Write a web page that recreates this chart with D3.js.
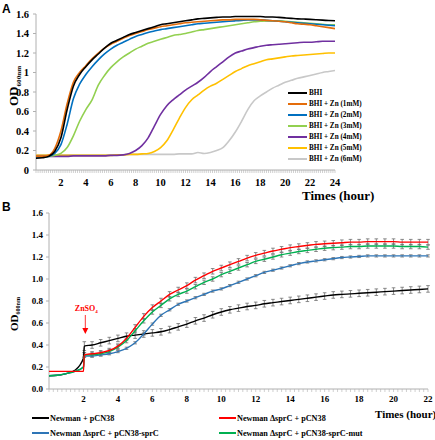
<!DOCTYPE html>
<html>
<head>
<meta charset="utf-8">
<script src="https://cdn.jsdelivr.net/npm/d3@7"></script>
<style>
  body { margin: 0; background: #fff; }
  svg { display: block; }
  .serif { font-family: "Liberation Serif", "Times New Roman", serif; font-weight: bold; }
  .panel-label { font-family: "Liberation Sans", Arial, sans-serif; font-weight: bold; font-size: 12px; }
</style>
</head>
<body>
<svg id="chart" width="435" height="440"></svg>
<script>
// ---------- panel A data (OD600 every 0.5 h, 0-24 h) ----------
const timesA = d3.range(0, 24.01, 0.5);
const seriesNamesA = ["BHI", "BHI + Zn (1mM)", "BHI + Zn (2mM)", "BHI + Zn (3mM)", "BHI + Zn (4mM)", "BHI + Zn (5mM)", "BHI + Zn (6mM)"];
const seriesColorsA = ["#000000", "#E46C0A", "#0070C0", "#92D050", "#7030A0", "#FFC000", "#C8C8C8"];
const bhi = [0.12,0.125,0.14,0.19,0.33,0.62,0.86,0.98,1.06,1.13,1.19,1.25,1.3,1.33,1.36,1.39,1.41,1.43,1.45,1.47,1.49,1.5,1.51,1.52,1.53,1.54,1.55,1.555,1.56,1.565,1.57,1.57,1.575,1.575,1.575,1.575,1.575,1.57,1.57,1.565,1.56,1.555,1.55,1.548,1.545,1.541,1.537,1.533,1.53];
const zn1 = [0.14,0.14,0.15,0.22,0.4,0.68,0.9,1.0,1.07,1.14,1.2,1.25,1.29,1.32,1.35,1.38,1.4,1.42,1.44,1.455,1.47,1.48,1.49,1.5,1.51,1.515,1.52,1.525,1.53,1.535,1.54,1.54,1.545,1.545,1.545,1.545,1.54,1.535,1.53,1.525,1.52,1.51,1.5,1.495,1.49,1.48,1.47,1.46,1.45];
const zn2 = [0.13,0.135,0.14,0.17,0.26,0.47,0.73,0.88,0.98,1.06,1.13,1.19,1.24,1.28,1.31,1.34,1.37,1.39,1.41,1.425,1.44,1.45,1.46,1.47,1.48,1.49,1.5,1.505,1.51,1.515,1.52,1.525,1.53,1.535,1.54,1.54,1.54,1.535,1.53,1.525,1.52,1.515,1.51,1.505,1.5,1.495,1.49,1.485,1.48];
const zn3 = [0.13,0.135,0.14,0.15,0.17,0.23,0.35,0.5,0.62,0.72,0.87,0.97,1.05,1.11,1.16,1.2,1.24,1.27,1.3,1.32,1.34,1.36,1.38,1.39,1.4,1.415,1.43,1.44,1.45,1.46,1.47,1.48,1.49,1.5,1.51,1.52,1.525,1.53,1.53,1.53,1.525,1.52,1.515,1.51,1.505,1.5,1.495,1.49,1.49];
const zn4 = [0.14,0.14,0.14,0.14,0.14,0.14,0.145,0.145,0.145,0.145,0.145,0.145,0.15,0.15,0.155,0.17,0.2,0.25,0.33,0.45,0.57,0.66,0.72,0.77,0.82,0.86,0.9,0.95,1.01,1.06,1.11,1.16,1.2,1.22,1.24,1.255,1.27,1.28,1.285,1.29,1.295,1.3,1.305,1.31,1.31,1.315,1.32,1.32,1.32];
const zn5 = [0.15,0.15,0.15,0.15,0.15,0.15,0.15,0.15,0.15,0.15,0.15,0.15,0.15,0.155,0.155,0.16,0.16,0.165,0.17,0.19,0.23,0.3,0.41,0.53,0.64,0.72,0.77,0.82,0.86,0.89,0.93,0.97,1.01,1.04,1.07,1.09,1.11,1.13,1.14,1.15,1.16,1.17,1.175,1.18,1.185,1.19,1.195,1.2,1.2];
const zn6 = [0.155,0.155,0.155,0.155,0.155,0.155,0.155,0.155,0.155,0.155,0.155,0.155,0.155,0.155,0.155,0.16,0.16,0.16,0.16,0.16,0.16,0.16,0.16,0.165,0.165,0.165,0.18,0.17,0.18,0.2,0.23,0.3,0.39,0.5,0.62,0.71,0.76,0.8,0.84,0.87,0.9,0.92,0.94,0.955,0.97,0.985,1.0,1.01,1.02];
const valuesA = [bhi, zn1, zn2, zn3, zn4, zn5, zn6];
const yTicksA = [0, 0.2, 0.4, 0.6, 0.8, 1, 1.2, 1.4, 1.6];
const xTicksA = [2, 4, 6, 8, 10, 12, 14, 16, 18, 20, 22, 24];

// ---------- panel B data ----------
const timesB = [0, 0.5, 1, 1.5, 2, 2.05].concat(d3.range(2.5, 22.01, 0.5));
const seriesNamesB = ["Newman + pCN38", "Newman \u0394sprC + pCN38", "Newman \u0394sprC + pCN38-sprC", "Newman \u0394sprC + pCN38-sprC-mut"];
const seriesColorsB = ["#000000", "#FF0000", "#2E75B6", "#00B050"];
const wtVec = [0.12,0.125,0.14,0.17,0.28,0.39,0.40,0.42,0.44,0.46,0.48,0.49,0.5,0.51,0.52,0.54,0.565,0.59,0.62,0.645,0.675,0.70,0.72,0.735,0.75,0.76,0.775,0.785,0.795,0.805,0.815,0.825,0.835,0.845,0.855,0.86,0.865,0.87,0.875,0.88,0.885,0.89,0.895,0.9,0.905,0.91];
const mutVec = [0.16,0.16,0.16,0.16,0.16,0.31,0.32,0.33,0.35,0.39,0.46,0.56,0.66,0.74,0.8,0.86,0.9,0.94,0.99,1.03,1.07,1.1,1.13,1.16,1.19,1.215,1.235,1.255,1.27,1.285,1.295,1.305,1.315,1.32,1.325,1.33,1.335,1.335,1.34,1.34,1.34,1.34,1.335,1.335,1.335,1.335];
const mutComp = [0.12,0.125,0.14,0.16,0.2,0.30,0.30,0.31,0.32,0.34,0.37,0.42,0.5,0.59,0.67,0.72,0.77,0.8,0.83,0.86,0.89,0.91,0.94,0.97,1.0,1.03,1.06,1.08,1.1,1.12,1.14,1.155,1.165,1.175,1.185,1.195,1.2,1.205,1.21,1.21,1.21,1.21,1.21,1.21,1.21,1.21];
const mutCompMut = [0.12,0.125,0.14,0.16,0.2,0.31,0.31,0.32,0.34,0.38,0.44,0.53,0.62,0.7,0.76,0.82,0.86,0.89,0.93,0.97,1.0,1.04,1.07,1.1,1.13,1.16,1.18,1.2,1.22,1.235,1.25,1.26,1.27,1.28,1.285,1.29,1.295,1.295,1.3,1.3,1.3,1.3,1.295,1.295,1.295,1.29];
const valuesB = [wtVec, mutVec, mutComp, mutCompMut];
// error bar half-widths (0 = no bar drawn)
const errWtVec = [0,0,0,0,0,0.04,0.03,0.03,0.03,0.03,0.03,0.03,0.03,0.03,0.03,0.03,0.03,0.03,0.03,0.03,0.03,0.03,0.03,0.03,0.03,0.03,0.03,0.03,0.03,0.03,0.03,0.03,0.03,0.03,0.03,0.03,0.03,0.03,0.03,0.03,0.03,0.03,0.03,0.03,0.03,0.03];
const errMutVec = [0,0,0,0,0,0.02,0.02,0.02,0.02,0.02,0.02,0.025,0.025,0.025,0.025,0.025,0.025,0.025,0.025,0.025,0.025,0.025,0.025,0.025,0.025,0.025,0.025,0.025,0.025,0.025,0.025,0.025,0.025,0.025,0.025,0.025,0.025,0.025,0.025,0.025,0.025,0.025,0.025,0.025,0.025,0.025];
const errMutComp = [0,0,0,0,0,0.01,0.01,0.01,0.01,0.01,0.01,0.01,0.01,0.01,0.01,0.01,0.01,0.01,0.01,0.01,0.01,0.01,0.01,0.01,0.01,0.01,0.01,0.01,0.01,0.01,0.01,0.01,0.01,0.01,0.01,0.01,0.01,0.01,0.01,0.01,0.01,0.01,0.01,0.01,0.01,0.01];
const errMutCompMut = [0,0,0,0,0,0.02,0.02,0.02,0.02,0.02,0.02,0.02,0.02,0.02,0.02,0.02,0.02,0.02,0.02,0.02,0.02,0.02,0.02,0.02,0.02,0.02,0.02,0.02,0.02,0.02,0.02,0.02,0.02,0.02,0.02,0.02,0.02,0.02,0.02,0.02,0.02,0.02,0.02,0.02,0.02,0.02];
const errorsB = [errWtVec, errMutVec, errMutComp, errMutCompMut];
const yTicksB = [0, 0.2, 0.4, 0.6, 0.8, 1.0, 1.2, 1.4, 1.6];
const xTicksB = [2, 4, 6, 8, 10, 12, 14, 16, 18, 20, 22];

const svg = d3.select("svg#chart");
svg.append("rect").attr("width", 435).attr("height", 440).attr("fill", "#fff");
const axisColor = "#b0b0b0";

// draws axis lines, ticks and tick labels for one panel
function drawAxes(g, x, y, xTicks, yTicks, minorStep, opts) {
  const [x0, x1] = x.range();
  const [y0, y1] = y.range();
  // minor ticks along x
  const minors = d3.range(x.domain()[0], x.domain()[1] + 1e-6, minorStep);
  g.append("g")
    .selectAll("line")
    .data(minors)
    .join("line")
    .attr("x1", (d) => x(d))
    .attr("x2", (d) => x(d))
    .attr("y1", y0)
    .attr("y2", y0 + 3)
    .attr("stroke", axisColor)
    .attr("stroke-width", 0.6);
  g.append("line")
    .attr("x1", x0).attr("x2", x1)
    .attr("y1", y0).attr("y2", y0)
    .attr("stroke", axisColor);
  g.append("line")
    .attr("x1", x0).attr("x2", x0)
    .attr("y1", y0).attr("y2", y1)
    .attr("stroke", axisColor);
  g.append("g")
    .selectAll("line")
    .data(yTicks)
    .join("line")
    .attr("x1", x0 - 3).attr("x2", x0)
    .attr("y1", (d) => y(d)).attr("y2", (d) => y(d))
    .attr("stroke", axisColor);
  g.append("g")
    .selectAll("text")
    .data(yTicks)
    .join("text")
    .attr("class", "serif")
    .attr("x", x0 - opts.yLabelGap)
    .attr("y", (d) => y(d))
    .attr("text-anchor", "end")
    .attr("dominant-baseline", "central")
    .attr("font-size", opts.fontSize)
    .text((d) => opts.yFormat(d));
  g.append("g")
    .selectAll("text")
    .data(xTicks)
    .join("text")
    .attr("class", "serif")
    .attr("x", (d) => x(d))
    .attr("y", y0 + opts.xLabelGap)
    .attr("text-anchor", "middle")
    .attr("dominant-baseline", "central")
    .attr("font-size", opts.fontSize)
    .text((d) => d);
}

function odLabel(g, x, y, size) {
  const t = g.append("text")
    .attr("class", "serif")
    .attr("transform", `translate(${x}, ${y}) rotate(-90)`)
    .attr("font-size", size);
  t.append("tspan").text("OD");
  t.append("tspan").attr("font-size", size * 0.55).attr("dy", size * 0.2).text("600nm");
}

// ---------- panel A ----------
const xA = d3.scaleLinear().domain([0, 24]).range([36, 335]);
const yA = d3.scaleLinear().domain([0, 1.6]).range([170, 14]);
const gA = svg.append("g").attr("id", "panel-a");

gA.append("text").attr("class", "panel-label").attr("x", 2).attr("y", 13).text("A");
drawAxes(gA, xA, yA, xTicksA, yTicksA, 1 / 6, {
  fontSize: 10.5, yLabelGap: 7, xLabelGap: 12, yFormat: (d) => d3.format("")(d),
});
odLabel(gA, 18, 106, 13);
gA.append("text").attr("class", "serif").attr("x", 302).attr("y", 200)
  .attr("font-size", 13).text("Times (hour)");

const lineA = d3.line()
  .x((d) => xA(d[0]))
  .y((d) => yA(d[1]))
  .curve(d3.curveMonotoneX);

// draw last series first so BHI ends on top
for (let i = valuesA.length - 1; i >= 0; i--) {
  gA.append("path")
    .datum(timesA.map((t, j) => [t, valuesA[i][j]]))
    .attr("fill", "none")
    .attr("stroke", seriesColorsA[i])
    .attr("stroke-width", 1.6)
    .attr("d", lineA);
}

// legend A
const legendA = gA.append("g").attr("transform", "translate(288, 93)");
seriesNamesA.forEach((name, i) => {
  legendA.append("line")
    .attr("x1", 0).attr("x2", 19)
    .attr("y1", i * 11).attr("y2", i * 11)
    .attr("stroke", seriesColorsA[i])
    .attr("stroke-width", 2);
  legendA.append("text")
    .attr("class", "serif")
    .attr("x", 21).attr("y", i * 11)
    .attr("dominant-baseline", "central")
    .attr("font-size", 7.2)
    .text(name);
});

// ---------- panel B ----------
const xB = d3.scaleLinear().domain([0, 22]).range([49, 428]);
const yB = d3.scaleLinear().domain([0, 1.6]).range([389, 213]);
const gB = svg.append("g").attr("id", "panel-b");

gB.append("text").attr("class", "panel-label").attr("x", 2).attr("y", 211).text("B");
drawAxes(gB, xB, yB, xTicksB, yTicksB, 0.25, {
  fontSize: 9, yLabelGap: 6, xLabelGap: 10, yFormat: d3.format(".1f"),
});
odLabel(gB, 18, 331, 11);
gB.append("text").attr("class", "serif").attr("x", 375).attr("y", 418)
  .attr("font-size", 11).text("Times (hour)");

const lineB = d3.line()
  .x((d) => xB(d[0]))
  .y((d) => yB(d[1]))
  .curve(d3.curveMonotoneX);

// error bars underneath the curves
valuesB.forEach((vals, i) => {
  const pts = timesB
    .map((t, j) => ({ t: t, v: vals[j], e: errorsB[i][j] }))
    .filter((d) => d.e > 0);
  const eb = gB.append("g").attr("stroke", "#6f6f6f").attr("stroke-width", 0.8);
  eb.selectAll("line.bar")
    .data(pts)
    .join("line")
    .attr("class", "bar")
    .attr("x1", (d) => xB(d.t)).attr("x2", (d) => xB(d.t))
    .attr("y1", (d) => yB(d.v - d.e)).attr("y2", (d) => yB(d.v + d.e));
  [-1, 1].forEach((s) => {
    eb.selectAll(`line.cap${s}`)
      .data(pts)
      .join("line")
      .attr("class", `cap${s}`)
      .attr("x1", (d) => xB(d.t) - 1.8).attr("x2", (d) => xB(d.t) + 1.8)
      .attr("y1", (d) => yB(d.v + s * d.e)).attr("y2", (d) => yB(d.v + s * d.e));
  });
});

[0, 2, 3, 1].forEach((i) => {
  gB.append("path")
    .datum(timesB.map((t, j) => [t, valuesB[i][j]]))
    .attr("fill", "none")
    .attr("stroke", seriesColorsB[i])
    .attr("stroke-width", 1.4)
    .attr("d", lineB);
});

// ZnSO4 addition marker
const znX = xB(2.05);
const zn = gB.append("text").attr("class", "serif")
  .attr("x", znX + 2).attr("y", 311)
  .attr("text-anchor", "middle")
  .attr("font-size", 8)
  .attr("fill", "#FF0000");
zn.append("tspan").text("ZnSO");
zn.append("tspan").attr("font-size", 5).attr("dy", 2).text("4");
gB.append("line")
  .attr("x1", znX + 1).attr("x2", znX + 1)
  .attr("y1", 315).attr("y2", 329)
  .attr("stroke", "#FF0000").attr("stroke-width", 0.8);
gB.append("path")
  .attr("d", `M${znX - 2},328 L${znX + 4},328 L${znX + 1},334 Z`)
  .attr("fill", "#FF0000");

// legend B (2 x 2)
const legendPos = [[32, 418], [219, 418], [32, 433], [219, 433]];
seriesNamesB.forEach((name, i) => {
  const [lx, ly] = legendPos[i];
  gB.append("line")
    .attr("x1", lx).attr("x2", lx + 17)
    .attr("y1", ly).attr("y2", ly)
    .attr("stroke", seriesColorsB[i])
    .attr("stroke-width", 2);
  gB.append("text")
    .attr("class", "serif")
    .attr("x", lx + 18).attr("y", ly)
    .attr("dominant-baseline", "central")
    .attr("font-size", 8.2)
    .text(name);
});
</script>
</body>
</html>
